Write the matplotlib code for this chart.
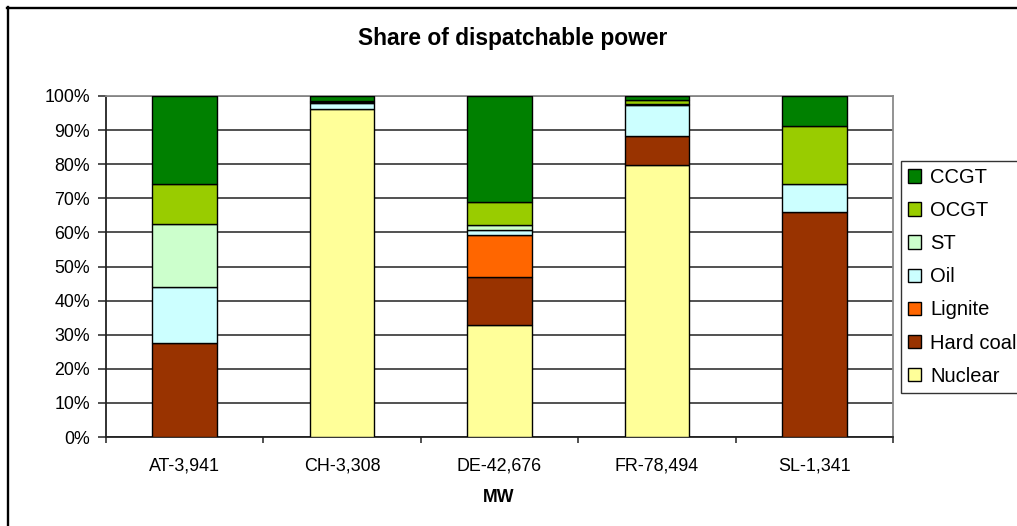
import matplotlib
matplotlib.use("Agg")
import matplotlib.pyplot as plt
from matplotlib.lines import Line2D
from matplotlib.patches import Patch
from matplotlib.ticker import PercentFormatter, FixedLocator
import numpy as np

plt.rcParams['font.family'] = ['Liberation Sans', 'DejaVu Sans']

# Countries with installed dispatchable capacity (MW)
categories = ["AT-3,941", "CH-3,308", "DE-42,676", "FR-78,494", "SL-1,341"]

# Share of each technology (%) per country, stacked bottom to top
nuclear   = [0.0, 96.2, 32.7, 79.9, 0.0]
hard_coal = [27.6, 0.0, 14.2, 8.5, 66.0]
lignite   = [0.0, 0.0, 12.2, 0.0, 0.0]
oil       = [16.4, 1.7, 1.5, 9.1, 8.3]
st        = [18.5, 0.3, 1.7, 0.2, 0.0]
ocgt      = [11.8, 0.3, 6.6, 1.1, 16.9]
ccgt      = [25.7, 1.5, 31.1, 1.2, 8.8]

series_names = ["Nuclear", "Hard coal", "Lignite", "Oil", "ST", "OCGT", "CCGT"]
series_values = [nuclear, hard_coal, lignite, oil, st, ocgt, ccgt]
series_colors = ["#FFFF99", "#993300", "#FF6600", "#CCFFFF", "#CCFFCC", "#99CC00", "#008000"]

W, H = 1017, 526
fig = plt.figure(figsize=(W / 100, H / 100), dpi=100)
fig.patch.set_facecolor("white")

# outer chart frame (left and top edges visible)
fig.add_artist(Line2D([7.5 / W, 7.5 / W], [0, 1 - 7 / H], transform=fig.transFigure,
                      color="black", lw=1.7))
fig.add_artist(Line2D([7 / W, 1.0], [1 - 7.5 / H, 1 - 7.5 / H], transform=fig.transFigure,
                      color="black", lw=1.7))

left, right, top, bottom = 106, 893, 96, 437
ax = fig.add_axes([left / W, 1 - bottom / H, (right - left) / W, (bottom - top) / H])

x = np.arange(len(categories))
base = np.zeros(len(categories))
for name, vals, col in zip(series_names, series_values, series_colors):
    vals = np.asarray(vals, dtype=float)
    lws = np.where(vals > 0, 1.0, 0.0)
    ax.bar(x, vals, width=0.41, bottom=base, color=col, edgecolor="black",
           linewidth=lws, zorder=3, label=name)
    base += vals

ax.set_xlim(-0.5, len(categories) - 0.5)
ax.set_ylim(0, 100)
ax.yaxis.set_major_locator(FixedLocator(np.arange(0, 101, 10)))
ax.yaxis.set_major_formatter(PercentFormatter(decimals=0))
ax.grid(axis="y", color="#333333", lw=1.2, zorder=1)
ax.set_axisbelow(True)

ax.set_xticks(x)
ax.set_xticklabels(categories)
ax.set_xticks(np.arange(-0.5, len(categories), 1.0), minor=True)
ax.tick_params(axis="x", which="major", length=0, pad=15, labelsize=12.9)
ax.tick_params(axis="x", which="minor", length=4, width=1.1, direction="out", color="#222222")
ax.tick_params(axis="y", length=6, width=1.1, pad=5.5, labelsize=12.8, color="#222222")

for s in ("left", "bottom"):
    ax.spines[s].set_color("#222222")
    ax.spines[s].set_linewidth(1.3)
for s in ("top", "right"):
    ax.spines[s].set_color("#8a8a8a")
    ax.spines[s].set_linewidth(1.3)

fig.text(513 / W, 1 - 38 / H, "Share of dispatchable power", ha="center", va="center",
         fontsize=16.4, fontweight="bold")
fig.text(499 / W, 1 - 498 / H, "MW", ha="center", va="center",
         fontsize=12.8, fontweight="bold")

handles = [Patch(facecolor=c, edgecolor="black", linewidth=1.0)
           for c in series_colors][::-1]
labels = series_names[::-1]
leg = fig.legend(handles, labels, loc="upper left",
                 bbox_to_anchor=(901 / W, 1 - 161 / H), bbox_transform=fig.transFigure,
                 fontsize=14.5, frameon=True, fancybox=False, borderaxespad=0,
                 borderpad=0.35, labelspacing=0.7, handlelength=0.65, handleheight=0.65,
                 handletextpad=0.45)
leg.get_frame().set_edgecolor("black")
leg.get_frame().set_linewidth(1.0)

fig.savefig("out.png", dpi=100, facecolor="white")
